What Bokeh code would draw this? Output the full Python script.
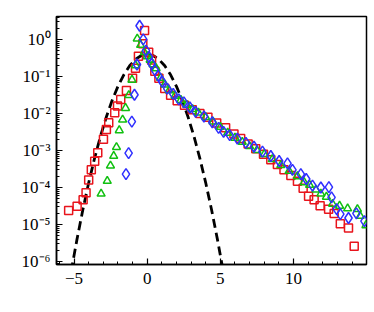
from bokeh.plotting import figure
from bokeh.models import Range1d, LogTicker, FixedTicker
from bokeh.embed import file_html
from bokeh.resources import INLINE

# --- data ---
red_x = [-5.37, -4.79, -4.38, -4.18, -4.0, -3.82, -3.59, -3.38, -2.99, -2.79, -2.63, -2.22, -2.03,
         -1.81, -1.42, -1.0, -0.8, -0.6, -0.3, -0.18, 0.1, 0.3, 0.52, 0.8, 1.2, 1.6, 2.05, 2.55,
         3.08, 3.6, 4.15, 4.75, 5.36, 5.93, 6.39, 6.9, 7.42, 7.95, 8.45, 8.9, 9.35, 9.82, 10.27,
         10.66, 11.03, 11.41, 11.82, 12.4, 12.78, 13.2, 13.76, 14.15]
red_y = [2.4e-5, 3.1e-5, 4.7e-5, 7.2e-5, 1.6e-4, 3.0e-4, 5.1e-4, 8.7e-4, 2.0e-3, 3.7e-3, 5.6e-3,
         1.05e-2, 1.6e-2, 2.4e-2, 4.2e-2, 8.9e-2, 0.166, 0.35, 0.76, 1.74, 0.45, 0.28, 0.138, 0.089,
         0.047, 0.031, 0.022, 0.0166, 0.0126, 0.0100, 0.0079, 0.0055, 0.0041, 0.0028, 0.0021,
         0.0015, 0.00112, 7.9e-4, 5.6e-4, 4.2e-4, 3.0e-4, 2.1e-4, 1.48e-4, 9.5e-5, 5.8e-5, 4.7e-5,
         3.2e-5, 2.6e-5, 2.0e-5, 1.05e-5, 8.1e-6, 2.6e-6]

green_x = [-3.15, -2.73, -2.51, -2.29, -2.1, -1.91, -1.68, -1.48, -1.26, -1.04, -0.8, -0.68, -0.45,
           -0.2, 0.0, 0.2, 0.4, 0.61, 0.91, 1.2, 1.5, 1.9, 2.3, 2.7, 3.1, 3.5, 4.0, 4.5, 5.0, 5.5,
           6.0, 6.5, 7.0, 7.5, 8.0, 8.55, 9.13, 9.7, 10.27, 10.73, 11.1, 11.53, 11.87, 12.25, 12.67,
           13.15, 13.7, 14.37, 14.56, 14.95]
green_y = [6.8e-5, 1.5e-4, 3.9e-4, 7.1e-4, 1.23e-3, 3.5e-3, 6.8e-3, 1.4e-2, 3.1e-2, 8.1e-2, 0.20,
           1.05, 0.71, 0.45, 0.35, 0.28, 0.21, 0.166, 0.091, 0.060, 0.042, 0.030, 0.023, 0.017,
           0.013, 0.0105, 0.0079, 0.0060, 0.0043, 0.0030, 0.0022, 0.0017, 0.0013, 0.00102, 7.9e-4,
           5.8e-4, 4.0e-4, 2.8e-4, 2.0e-4, 1.38e-4, 1.17e-4, 8.7e-5, 6.8e-5, 5.6e-5, 3.6e-5, 3.2e-5,
           2.7e-5, 2.6e-5, 1.7e-5, 9.5e-6]

blue_x = [-1.45, -1.27, -1.05, -0.87, -0.7, -0.52, -0.27, -0.08, 0.12, 0.3, 0.52, 0.75, 1.03, 1.37,
          1.78, 2.16, 2.51, 2.92, 3.31, 3.88, 4.45, 4.88, 5.22, 5.64, 6.16, 6.75, 7.3, 7.88, 8.45,
          9.02, 9.59, 9.93, 10.5, 10.87, 11.3, 11.87, 12.42, 12.6, 12.95, 13.2, 13.76, 14.3, 14.85]
blue_y = [2.3e-4, 8.5e-4, 6.0e-3, 3.2e-2, 0.21, 2.34, 1.0, 0.50, 0.34, 0.22, 0.148, 0.105, 0.072,
          0.047, 0.034, 0.024, 0.020, 0.0145, 0.011, 0.0083, 0.0058, 0.0041, 0.0032, 0.0026, 0.0021,
          0.0016, 0.00126, 9.3e-4, 7.1e-4, 5.2e-4, 4.5e-4, 3.0e-4, 2.3e-4, 1.7e-4, 1.12e-4, 1.0e-4,
          1.02e-4, 5.4e-5, 2.6e-5, 1.9e-5, 1.5e-5, 2.0e-5, 1.23e-5]

gauss_x = [-5.2, -4.8, -4.4, -4.0, -3.6, -3.2, -2.8, -2.4, -2.0, -1.6, -1.2, -0.8, -0.4, 0.0,
           0.4, 0.8, 1.2, 1.6, 2.0, 2.4, 2.8, 3.2, 3.6, 4.0, 4.4, 4.8, 5.2]
gauss_y = [5.4e-7, 3.97e-6, 2.5e-5, 1.34e-4, 6.1e-4, 2.38e-3, 7.9e-3, 2.24e-2, 0.054, 0.111, 0.194,
           0.290, 0.368, 0.399, 0.368, 0.290, 0.194, 0.111, 0.054, 2.24e-2, 7.9e-3, 2.38e-3,
           6.1e-4, 1.34e-4, 2.5e-5, 3.97e-6, 5.4e-7]

x_ticks = [-5, 0, 5, 10]
y_ticks = [1e-6, 1e-5, 1e-4, 1e-3, 1e-2, 1e-1, 1e0]
y_tick_labels = ["10\u207b\u2076", "10\u207b\u2075", "10\u207b\u2074", "10\u207b\u00b3",
                 "10\u207b\u00b2", "10\u207b\u00b9", "10\u2070"]

FONT = "Liberation Serif"

p = figure(frame_width=310, frame_height=248, y_axis_type="log",
           x_range=Range1d(-6.2, 14.99), y_range=Range1d(10 ** -6.08, 10 ** 0.62),
           output_backend="svg", toolbar_location=None,
           min_border_left=56, min_border_right=4, min_border_top=16, min_border_bottom=36,
           background_fill_color="white", border_fill_color="white")
p.grid.visible = False
p.outline_line_color = "black"
p.outline_line_width = 1.5

p.line(gauss_x, gauss_y, line_color="black", line_width=2.8, line_dash="9 5")

p.scatter(red_x, red_y, marker="square", size=8, fill_color=None, line_color="#e8141c", line_width=1.5)
p.scatter(green_x, green_y, marker="triangle", size=8, fill_color=None, line_color="#10c010", line_width=1.5)
p.scatter(blue_x, blue_y, marker="diamond", size=11, fill_color=None, line_color="#3030ff", line_width=1.5)

xa = p.xaxis[0]
xa.ticker = FixedTicker(ticks=x_ticks, minor_ticks=list(range(-6, 15)))
ya = p.yaxis[0]
ya.ticker = LogTicker(num_minor_ticks=10, desired_num_ticks=7)
ya.major_label_overrides = {t: l for t, l in zip(y_ticks, y_tick_labels)}

for ax in (xa, ya):
    ax.axis_line_color = "black"
    ax.axis_line_width = 1.5
    ax.major_tick_in = 6
    ax.major_tick_out = 0
    ax.minor_tick_in = 3
    ax.minor_tick_out = 0
    ax.major_tick_line_color = "black"
    ax.minor_tick_line_color = "black"
    ax.major_tick_line_width = 1.2
    ax.minor_tick_line_width = 1
    ax.major_label_text_font = FONT
    ax.major_label_text_font_size = "17px"
    ax.major_label_text_color = "black"
xa.major_label_standoff = 8
ya.major_label_standoff = 6

open("out.html", "w").write(file_html(p, INLINE))
